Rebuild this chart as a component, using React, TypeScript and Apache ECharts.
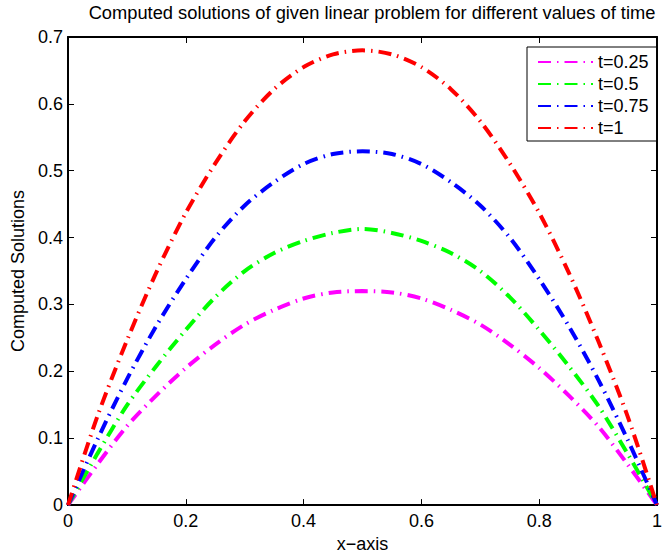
import React, { useEffect, useRef } from "react";
import * as echarts from "echarts";

const xValues = [0, 0.05, 0.1, 0.15, 0.2, 0.25, 0.3, 0.35, 0.4, 0.45, 0.5, 0.55, 0.6, 0.65, 0.7, 0.75, 0.8, 0.85, 0.9, 0.95, 1];
const seriesNames = ["t=0.25", "t=0.5", "t=0.75", "t=1"];
const seriesColors = ["#ff00ff", "#00ff00", "#0000ff", "#ff0000"];
const valuesT025 = [0, 0.061, 0.118, 0.164, 0.205, 0.24, 0.27, 0.292, 0.309, 0.318, 0.32, 0.318, 0.309, 0.292, 0.27, 0.24, 0.205, 0.164, 0.118, 0.061, 0];
const valuesT05 = [0, 0.077, 0.149, 0.208, 0.262, 0.311, 0.35, 0.377, 0.395, 0.407, 0.413, 0.407, 0.395, 0.377, 0.35, 0.311, 0.262, 0.208, 0.149, 0.077, 0];
const valuesT075 = [0, 0.098, 0.188, 0.268, 0.338, 0.4, 0.448, 0.483, 0.51, 0.525, 0.529, 0.525, 0.51, 0.483, 0.448, 0.4, 0.338, 0.268, 0.188, 0.098, 0];
const valuesT1 = [0, 0.133, 0.246, 0.348, 0.437, 0.511, 0.574, 0.622, 0.655, 0.674, 0.68, 0.674, 0.655, 0.622, 0.574, 0.511, 0.437, 0.348, 0.246, 0.133, 0];
const allValues = [valuesT025, valuesT05, valuesT075, valuesT1];
const xTicks = { min: 0, max: 1, interval: 0.2 };
const yTicks = { min: 0, max: 0.7, interval: 0.1 };

const FONT = "'Liberation Sans', Arial, Helvetica, sans-serif";

export default function App() {
  const ref = useRef<HTMLDivElement>(null);
  useEffect(() => {
    if (!ref.current) return;
    const chart = echarts.init(ref.current, undefined, { renderer: "svg" });
    const axisLine = { show: true, onZero: false, lineStyle: { color: "#000", width: 2 } };
    const axisTick = { show: true, inside: true, length: 6, lineStyle: { color: "#000", width: 1 } };
    const label = { color: "#000", fontSize: 18, fontFamily: FONT };
    const option: any = {
      animation: false,
      backgroundColor: "#fff",
      title: {
        text: "Computed solutions of given linear problem for different values of time",
        left: 372,
        top: 3,
        padding: 0,
        textAlign: "center",
        textStyle: { color: "#000", fontSize: 18.3, fontWeight: "normal", fontFamily: FONT },
      },
      grid: { left: 68, right: 2, top: 37, bottom: 51, containLabel: false },
      legend: {
        data: seriesNames,
        orient: "vertical",
        left: 527,
        top: 47,
        padding: [4, 8, 2, 10],
        itemGap: 0,
        itemWidth: 55,
        itemHeight: 14,
        backgroundColor: "#fff",
        borderColor: "#000",
        borderWidth: 1,
        borderRadius: 0,
        itemStyle: { opacity: 0 },
        textStyle: { color: "#000", fontSize: 18, fontFamily: FONT, lineHeight: 22 },
      },
      xAxis: [
        {
          type: "value",
          position: "bottom",
          ...xTicks,
          axisLine,
          axisTick,
          axisLabel: { ...label, margin: 7 },
          splitLine: { show: false },
          name: "x\u2212axis",
          nameLocation: "middle",
          nameGap: 28,
          nameTextStyle: { ...label },
        },
        {
          type: "value",
          position: "top",
          ...xTicks,
          axisLine,
          axisTick,
          axisLabel: { show: false },
          splitLine: { show: false },
        },
      ],
      yAxis: [
        {
          type: "value",
          position: "left",
          ...yTicks,
          axisLine,
          axisTick,
          axisLabel: { ...label, margin: 5 },
          splitLine: { show: false },
          name: "Computed Solutions",
          nameLocation: "middle",
          nameGap: 41,
          nameTextStyle: { ...label },
        },
        {
          type: "value",
          position: "right",
          ...yTicks,
          axisLine,
          axisTick,
          axisLabel: { show: false },
          splitLine: { show: false },
        },
      ],
      series: seriesNames.map((name, i) => ({
        name,
        type: "line",
        xAxisIndex: 0,
        yAxisIndex: 0,
        data: xValues.map((x, j) => [x, allValues[i][j]]),
        showSymbol: false,
        symbol: "none",
        smooth: 0.3,
        clip: false,
        lineStyle: { color: seriesColors[i], width: 4, type: [13, 6, 1.5, 6], cap: "butt" },
        itemStyle: { color: seriesColors[i] },
      })),
    };
    chart.setOption(option);
    return () => chart.dispose();
  }, []);
  return (
    <div
      ref={ref}
      style={{ position: "absolute", left: 0, top: 0, width: 665, height: 558 }}
    />
  );
}
